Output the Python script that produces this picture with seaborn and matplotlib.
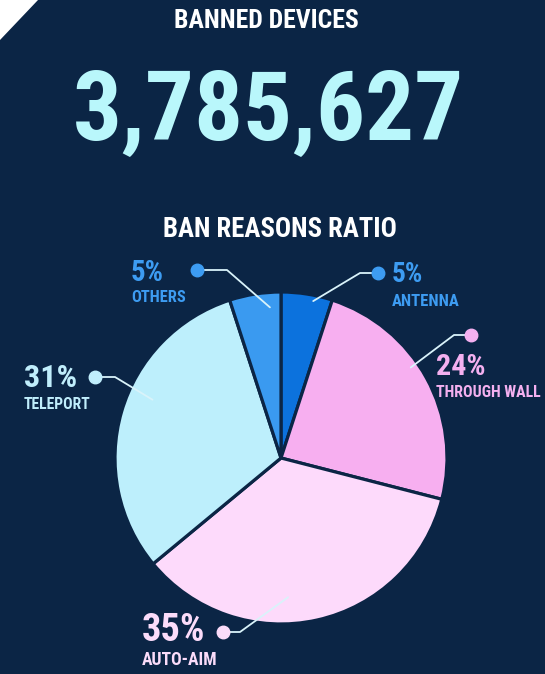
import matplotlib
matplotlib.use("Agg")
import matplotlib.pyplot as plt
import seaborn as sns
import numpy as np
from matplotlib.patches import Polygon
from matplotlib import font_manager as fm

# ---------------- data ----------------
categories = ["ANTENNA", "THROUGH WALL", "AUTO-AIM", "TELEPORT", "OTHERS"]
shares = [5, 24, 35, 31, 5]
pct_labels = ["5%", "24%", "35%", "31%", "5%"]
headline_label = "BANNED DEVICES"
headline_value = "3,785,627"
chart_title = "BAN REASONS RATIO"

# ---------------- style ----------------
BG = "#0b2545"
wedge_colors = ["#0c72dd", "#f7aff0", "#fddafb", "#bdeffc", "#3a9af0"]
text_colors = ["#3d9cf2", "#f4b0f0", "#fbdcfa", "#c0eefc", "#3d9cf2"]
LINE_COLOR = "#d9f3fa"

sns.set_theme(style="white")
names = {f.name for f in fm.fontManager.ttflist}
cands = [n for n in ["Roboto Condensed", "Liberation Sans Narrow", "Open Sans Condensed"] if n in names]
FONT = cands + ["DejaVu Sans"]
plt.rcParams["font.family"] = FONT
STRETCH = "normal" if cands else "condensed"

W, H = 545, 674
fig = plt.figure(figsize=(W / 100, H / 100), dpi=100, facecolor=BG)

# pie axes (pixel geometry)
cx, cy, R = 281, 458, 166
ax = fig.add_axes([(cx - R) / W, 1 - (cy + R) / H, 2 * R / W, 2 * R / H])
ax.set_facecolor(BG)
palette = sns.color_palette(wedge_colors)
ax.pie(shares, colors=palette, startangle=90, counterclock=False, radius=1,
       wedgeprops=dict(edgecolor=BG, linewidth=2.3))
ax.set_xlim(-1, 1)
ax.set_ylim(-1, 1)
ax.set_aspect("equal")
ax.axis("off")

# overlay axes in pixel coordinates for text and leaders
ov = fig.add_axes([0, 0, 1, 1])
ov.set_xlim(0, W)
ov.set_ylim(H, 0)
ov.axis("off")
ov.patch.set_alpha(0)

ov.add_patch(Polygon([(0, 0), (38, 0), (0, 40)], closed=True, color="white", lw=0))

fig.canvas.draw()
renderer = fig.canvas.get_renderer()


def fit_text(x, y, s, width_px, cap_px, color, ha="left"):
    t = ov.text(x, y, s, ha=ha, va="baseline", fontsize=20, fontweight="bold",
                fontstretch=STRETCH, color=color)
    bb = t.get_window_extent(renderer)
    fs_w = 20 * width_px / bb.width
    fs_h = cap_px / 0.73 * 0.72
    t.set_fontsize(min(fs_w, fs_h))
    return t


fit_text(266, 28, headline_label, 185, 21, "white", ha="center")
fit_text(268, 140, headline_value, 392, 92, "#b9f7fb", ha="center")
fit_text(280, 237, chart_title, 234, 20, "white", ha="center")

layout = [
    dict(tx=392, py=282, ny=306, dot=(378, 273), elbow=(360, 273), anc=(78.4, 0.965), pw=35, pc=20, nw=68, nc=18),
    dict(tx=436, py=375, ny=397, dot=(471, 335), elbow=(454, 335), anc=(34.9, 0.953), pw=51, pc=22, nw=105, nc=17),
    dict(tx=142, py=641, ny=665, dot=(223, 632), elbow=(240, 632), anc=(-87.1, 0.84), pw=68, pc=28, nw=76, nc=17),
    dict(tx=24, py=387, ny=409, dot=(95, 377), elbow=(115, 377), anc=(155.6, 0.85), pw=53, pc=24, nw=67, nc=16),
    dict(tx=131, py=281, ny=302, dot=(197, 270), elbow=(227, 270), anc=(94.2, 0.91), pw=35, pc=21, nw=55, nc=17),
]

to_ov = ov.transData.inverted()
for cat, pct, col, lay in zip(categories, pct_labels, text_colors, layout):
    ang, r = lay["anc"]
    a = np.deg2rad(ang)
    disp = ax.transData.transform((r * np.cos(a), r * np.sin(a)))
    axp, ayp = to_ov.transform(disp)
    xs = [lay["dot"][0], lay["elbow"][0], axp]
    ys = [lay["dot"][1], lay["elbow"][1], ayp]
    ov.plot(xs, ys, color=LINE_COLOR, lw=1.3, solid_capstyle="round", zorder=3)
    ov.plot([lay["dot"][0]], [lay["dot"][1]], marker="o", markersize=9,
            color=col, zorder=4)
    fit_text(lay["tx"], lay["py"], pct, lay["pw"], lay["pc"], col)
    fit_text(lay["tx"], lay["ny"], cat, lay["nw"], lay["nc"], col)

fig.savefig("out.png", dpi=100, facecolor=BG)
